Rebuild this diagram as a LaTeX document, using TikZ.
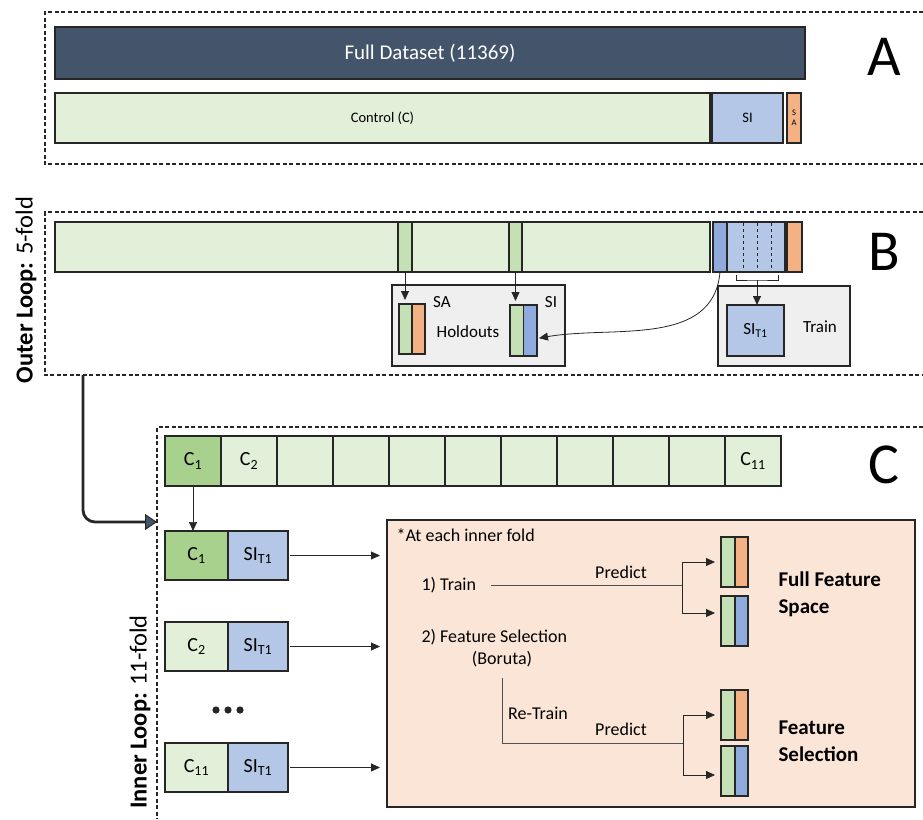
\documentclass[tikz,border=0pt]{standalone}
\usepackage{fontspec}
\setmainfont{Carlito}
\usetikzlibrary{arrows.meta}
\definecolor{navy}{HTML}{44546A}
\definecolor{lgreen}{HTML}{E2F0D9}
\definecolor{mgreen}{HTML}{C5E0B4}
\definecolor{dgreen}{HTML}{A9D18E}
\definecolor{lblue}{HTML}{B4C7E7}
\definecolor{dblue}{HTML}{8FAADC}
\definecolor{orng}{HTML}{F4B183}
\definecolor{peach}{HTML}{FBE5D6}
\definecolor{lgray}{HTML}{EFEFEF}
\definecolor{edge}{HTML}{262626}
\newcommand\fsz[2]{\fontsize{#1}{#2}\selectfont}
\tikzset{
  box/.style={draw=edge, line width=1.3pt, inner sep=0pt, outer sep=0pt, anchor=north west},
  panel/.style={draw=edge, line width=1.1pt, dash pattern=on 4pt off 2.5pt},
  arr/.style={draw=edge, line width=0.8pt, -{Triangle[length=9pt,width=8pt]}},
  thinline/.style={draw=edge!80, line width=0.8pt},
  bigletter/.style={font=\fsz{58}{60}},
  looplabel/.style={rotate=90, font=\fsz{24.5}{28}},
  c fill/.code={\ifnum#1=1 \tikzset{fill=dgreen}\else\tikzset{fill=lgreen}\fi},
}
\begin{document}
\begin{tikzpicture}[x=1pt, y=-1pt, font=\fsz{18}{22}]
\useasboundingbox (0,0) rectangle (923,819);

% panel A
\draw[panel] (923,12) -| (45,164) -- (923,164);
\node[box, fill=navy, text=white, font=\fsz{21}{25}, minimum width=750pt, minimum height=52pt] (full) at (55,27) {Full Dataset (11369)};
\node[box, fill=lgreen, font=\fsz{14.5}{17}, minimum width=655pt, minimum height=50pt] (ctrl) at (55,93) {Control (C)};
\node[box, fill=lblue, font=\fsz{14.5}{17}, minimum width=71pt, minimum height=50pt] (si) at (712,93) {SI};
\node[box, fill=orng, font=\fsz{8.5}{10}, align=center, minimum width=14pt, minimum height=50pt] (sa) at (787,93) {S\\A};
\node[bigletter] (labA) at (884,57) {A};

% panel B
\draw[panel] (923,212) -| (45,375) -- (923,375);
\node[box, fill=lgreen, minimum width=655pt, minimum height=50pt] (bar) at (55,222) {};
\node[box, fill=mgreen, minimum width=14pt, minimum height=50pt] (hsa) at (398,222) {};
\node[box, fill=mgreen, minimum width=13pt, minimum height=50pt] (hsi) at (509,222) {};
\node[box, fill=dblue, minimum width=14pt, minimum height=50pt] (dsi) at (713,222) {};
\node[box, fill=lblue, minimum width=58pt, minimum height=50pt] (tsi) at (727,222) {};
\foreach \x in {743,757,771} \draw[edge, dashed, line width=0.6pt] (\x,223) -- (\x,271);
\node[box, fill=orng, minimum width=15pt, minimum height=50pt] (osa) at (787,222) {};
\draw[edge, line width=0.7pt] (736,275) |- (757,280) coordinate (brk) -| (778,275);

\node[box, fill=lgray, minimum width=173pt, minimum height=81pt] (hold) at (392,285) {};
\node[box, fill=mgreen, minimum width=13pt, minimum height=50pt] (hag) at (399,304) {};
\node[box, fill=orng, minimum width=13pt, minimum height=50pt] (hao) at (412,304) {};
\node[box, fill=mgreen, minimum width=13.5pt, minimum height=51pt] (hig) at (510,305) {};
\node[box, fill=dblue, minimum width=13.5pt, minimum height=51pt] (hib) at (523.5,305) {};
\node[font=\fsz{17}{20}] (tSA) at (442,302) {SA};
\node[font=\fsz{17}{20}] (tHold) at (468,332) {Holdouts};
\node[font=\fsz{17}{20}] (tSI) at (551,302) {SI};
\draw[arr, shorten >=4pt] (hsa.south) -- (hsa.south |- hag.north);
\draw[arr, shorten >=4pt] (hsi.south) -- (hsi.south |- hig.north);

\node[box, fill=lgray, minimum width=132pt, minimum height=80pt] (train) at (718,286) {};
\node[box, fill=lblue, font=\fsz{17}{20}, minimum width=57pt, minimum height=51pt] (sit) at (727,305) {SI\textsubscript{T1}};
\node[font=\fsz{17}{20}] (tTrain) at (820,327) {Train};
\draw[arr] (brk) -- (brk |- sit.north);
\draw[arr, shorten >=2pt] (dsi.south) to[out=-95, in=10] ([yshift=-8pt]hib.east);

\node[looplabel] (outer) at (26,290) {\textbf{Outer Loop:} 5-fold};
\node[bigletter] (labB) at (884,252) {B};

% outer -> inner
\coordinate (outB) at (83,375);
\coordinate (inC) at (157,522);
\draw[edge, line width=2.8pt, rounded corners=12pt, -{Triangle[length=12pt, width=16pt, fill=navy, line width=1pt]}] (outB) |- (inC);

% panel C
\draw[panel] (923,427) -| (157,819);
\foreach \lab [count=\i] in {C\textsubscript{1},C\textsubscript{2},{},{},{},{},{},{},{},{},C\textsubscript{11}}
  \node[box, c fill=\i, font=\fsz{20}{24}, minimum width=56pt, minimum height=50pt] (c\i) at ({165+56*(\i-1)},436) {\lab};
\node[bigletter] (labC) at (884,465) {C};

\node[box, fill=peach, minimum width=528pt, minimum height=287pt] (peach) at (387,520) {};

\foreach \y/\k [count=\r] in {531/1, 622/2, 743/11} {
  \node[box, c fill=\k, font=\fsz{20}{24}, minimum width=63pt, minimum height=49pt] (rc\r) at (165,\y) {C\textsubscript{\k}};
  \node[box, fill=lblue, font=\fsz{20}{24}, minimum width=60pt, minimum height=49pt] (rs\r) at (228,\y) {SI\textsubscript{T1}};
  \draw[arr, shorten <=2pt, shorten >=7pt] (rs\r.east) -- (rs\r.east -| peach.west);
}
\draw[arr, line width=0.7pt] (c1.south) -- (c1.south |- rc1.north);
\foreach \x in {216,228,240} \fill[edge] (\x,710) circle (3.6pt);
\node[looplabel] (inner) at (140,712) {\textbf{Inner Loop:} 11-fold};

% inside the inner fold
\node[anchor=west] (note) at (393,535) {*At each inner fold};
\foreach \y/\c/\n in {537/orng/1, 596/dblue/2, 690/orng/3, 746/dblue/4} {
  \node[box, fill=mgreen, minimum width=14pt, minimum height=50pt] (s\n g) at (721,\y) {};
  \node[box, fill=\c, minimum width=13pt, minimum height=50pt] (s\n c) at (735,\y) {};
}
\node[anchor=west] (tr) at (418,585) {1) Train};
\coordinate (f1) at (682,585);
\draw[thinline, shorten <=12pt] (tr.east) -- (f1);
\draw[arr, shorten >=6pt] (f1) |- (s1g.west);
\draw[arr, shorten >=6pt] (f1) |- ([yshift=8pt]s2g.west);
\node (p1) at (621,572) {Predict};

\node[anchor=west] (fs) at (418,637) {2) Feature Selection};
\node (bor) at (502,659) {(Boruta)};
\coordinate (f2) at (683,743);
\draw[thinline, shorten <=8pt] (bor.south) |- (f2);
\draw[arr, shorten >=6pt] (f2) |- (s3g.west);
\draw[arr, shorten >=6pt] (f2) |- ([yshift=-4pt]s4g.west);
\node (rt) at (538,713) {Re-Train};
\node (p2) at (621,729) {Predict};

\node[anchor=west, align=left, font=\bfseries\fsz{21}{27}] (ffs) at (775,594) {Full Feature\\Space};
\node[anchor=west, align=left, font=\bfseries\fsz{21}{27}] (fsel) at (775,741) {Feature\\Selection};
\end{tikzpicture}
\end{document}
